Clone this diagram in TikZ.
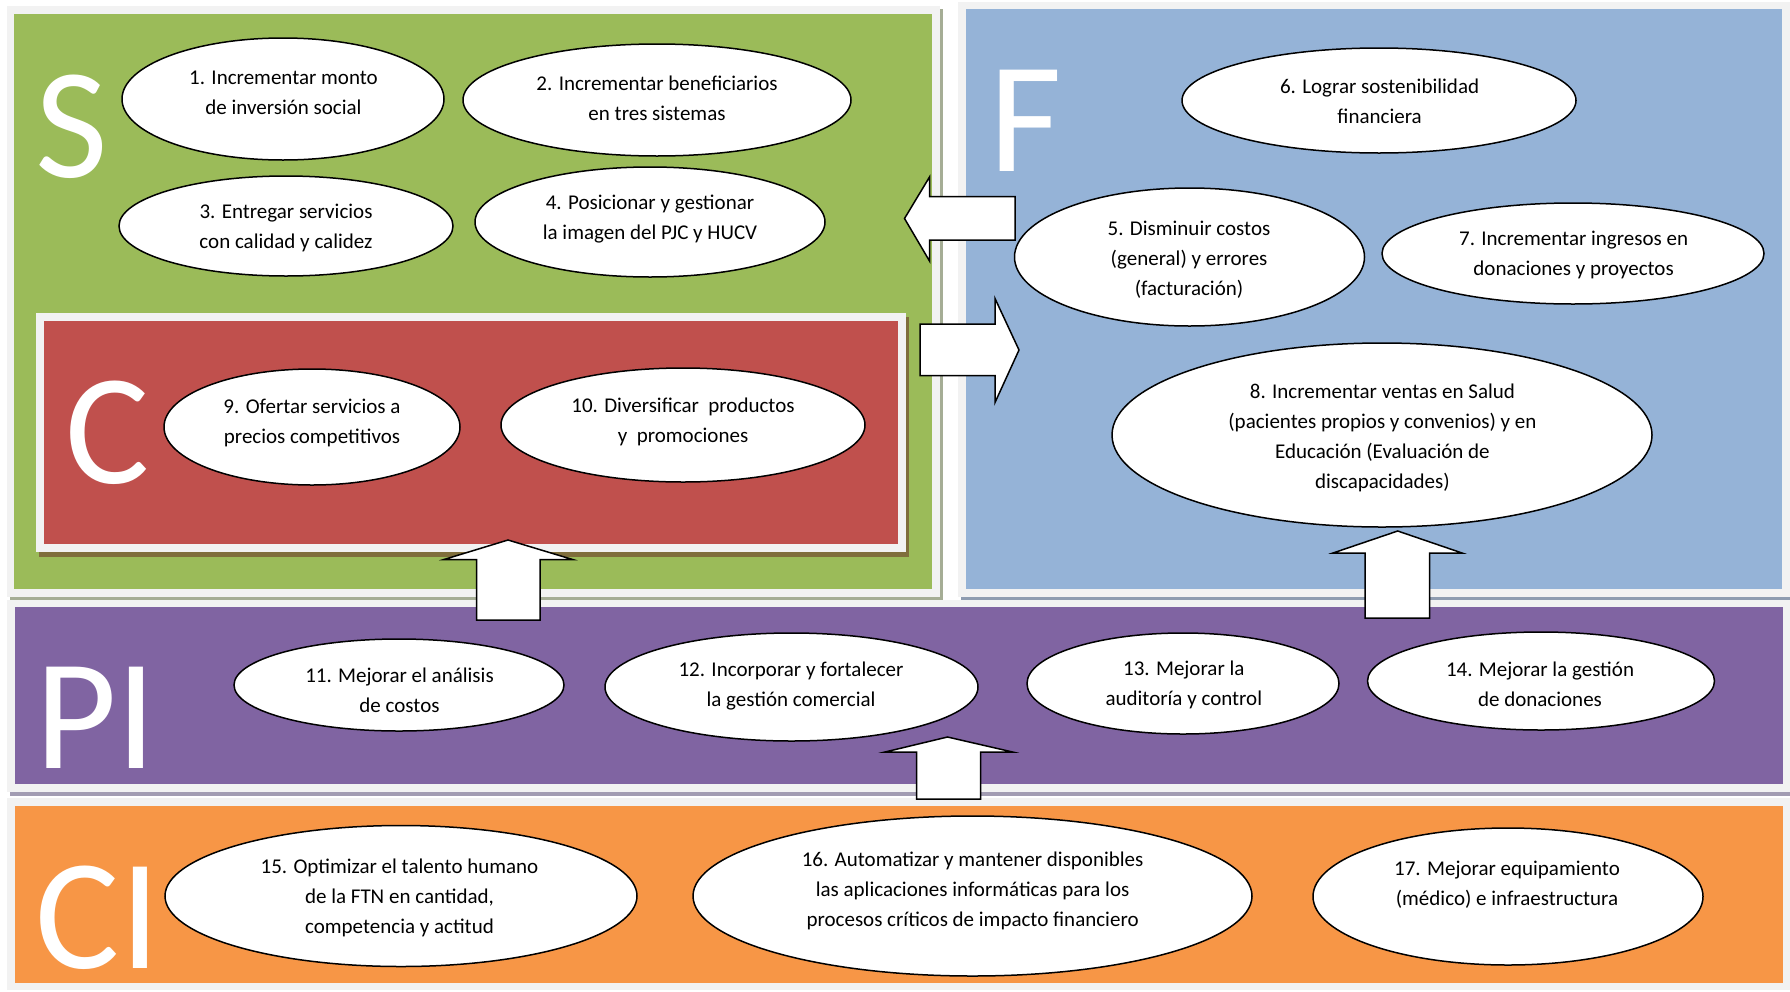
\documentclass[tikz,border=0pt]{standalone}
\usepackage{fontspec}
\setmainfont{Carlito}
\usetikzlibrary{shapes.geometric}
\definecolor{gS}{HTML}{9BBB59}
\definecolor{bF}{HTML}{95B3D7}
\definecolor{rC}{HTML}{C0504D}
\definecolor{pP}{HTML}{8064A2}
\definecolor{oC}{HTML}{F79646}
\definecolor{frm}{HTML}{F2F2F2}
\definecolor{shG}{HTML}{A5AD95}
\definecolor{shB}{HTML}{8E9CB0}
\definecolor{shR}{HTML}{7F6E3C}
\definecolor{shP}{HTML}{A29CB2}
\begin{document}
\begin{tikzpicture}[x=1pt,y=-1pt,
  oval/.style={ellipse, draw=black, fill=white, line width=1.5pt, inner sep=0pt},
  otext/.style={align=center, font=\fontsize{21}{30}\selectfont, inner sep=0pt},
  big/.style={text=white, font=\fontsize{158}{158}\selectfont, inner sep=0pt, anchor=base},
  barrow/.style={draw=black, fill=white, line width=1.5pt, line join=miter}]
\useasboundingbox (0,0) rectangle (1790,991);
\fill[white] (0,0) rectangle (1790,991);
% green S panel
\fill[shG] (10,9) rectangle (943,602);
\fill[frm] (7,6) rectangle (940,597);
\fill[gS] (13.5,13.8) rectangle (932,589);
% blue F panel
\fill[shB] (961,5) rectangle (1790,602);
\fill[frm] (958,2) rectangle (1790,597);
\fill[bF] (965.5,8.7) rectangle (1782,589);
% red C panel
\fill[shR] (39,317) rectangle (909,557);
\fill[frm] (36,313) rectangle (906,551.7);
\fill[rC] (44,321) rectangle (898,543.5);
% purple PI panel
\fill[shP] (10,603) rectangle (1790,796);
\fill[frm] (7,600) rectangle (1790,791.7);
\fill[pP] (15,606.5) rectangle (1783,784);
% orange CI panel
\fill[frm] (7,797.7) rectangle (1790,990);
\fill[oC] (15,806) rectangle (1783,983);
% big letters
\node[big] (lS) at (71.5,177) {S};
\node[big] (lF) at (1026,171) {F};
\node[big] (lC) at (108,483) {C};
\node[big] (lPI) at (96,768) {PI};
\node[big] (lCI) at (98,968) {CI};
% ellipses S
\node[oval, minimum width=322pt, minimum height=122pt] (o1) at (283,99) {};
\node[otext] (t1) at (283.5,93) {1. Incrementar monto\\de inversión social};
\node[oval, minimum width=388pt, minimum height=112pt] (o2) at (657,100) {};
\node[otext] (t2) at (657,98) {2. Incrementar beneficiarios\\en tres sistemas};
\node[oval, minimum width=334pt, minimum height=100pt] (o3) at (286,226) {};
\node[otext] (t3) at (286,227.5) {3. Entregar servicios\\con calidad y calidez};
\node[oval, minimum width=350pt, minimum height=110pt] (o4) at (650,222) {};
\node[otext] (t4) at (650,219) {4. Posicionar y gestionar\\la imagen del PJC y HUCV};
% ellipses C
\node[oval, minimum width=296pt, minimum height=116pt] (o9) at (312,427) {};
\node[otext] (t9) at (312,422.5) {9. Ofertar servicios a\\precios competitivos};
\node[oval, minimum width=364pt, minimum height=114pt] (o10) at (683,425) {};
\node[otext] (t10) at (683,421.5) {10. Diversificar\ \ productos\\y\ \ promociones};
% ellipses F
\node[oval, minimum width=394pt, minimum height=105pt] (o6) at (1379,100.5) {};
\node[otext] (t6) at (1379.6,100.8) {6. Lograr sostenibilidad\\financiera};
\node[oval, minimum width=350pt, minimum height=138pt] (o5) at (1189.5,257) {};
\node[otext] (t5) at (1189,260) {5. Disminuir costos\\(general) y errores\\(facturación)};
\node[oval, minimum width=382pt, minimum height=101pt] (o7) at (1573,253.5) {};
\node[otext] (t7) at (1573.6,254.6) {7. Incrementar ingresos en\\donaciones y proyectos};
\node[oval, minimum width=540pt, minimum height=184pt] (o8) at (1382,435) {};
\node[otext] (t8) at (1382.4,437.7) {8. Incrementar ventas en Salud\\(pacientes propios y convenios) y en\\Educación (Evaluación de\\discapacidades)};
% ellipses PI
\node[oval, minimum width=330pt, minimum height=92pt] (o11) at (399,685) {};
\node[otext] (t11) at (399.5,690) {11. Mejorar el análisis\\de costos};
\node[oval, minimum width=373pt, minimum height=108pt] (o12) at (791.5,687) {};
\node[otext] (t12) at (791,685.7) {12. Incorporar y fortalecer\\la gestión comercial};
\node[oval, minimum width=312pt, minimum height=101pt] (o13) at (1183,683.5) {};
\node[otext] (t13) at (1183.8,685) {13. Mejorar la\\auditoría y control};
\node[oval, minimum width=347pt, minimum height=98pt] (o14) at (1541,681) {};
\node[otext] (t14) at (1540,684.3) {14. Mejorar la gestión\\de donaciones};
% ellipses CI
\node[oval, minimum width=472pt, minimum height=141pt] (o15) at (401,896) {};
\node[otext] (t15) at (399.5,898) {15. Optimizar el talento humano\\de la FTN en cantidad,\\competencia y actitud};
\node[oval, minimum width=559pt, minimum height=160pt] (o16) at (972.5,896) {};
\node[otext] (t16) at (972.6,891) {16. Automatizar y mantener disponibles\\las aplicaciones informáticas para los\\procesos críticos de impacto financiero};
\node[oval, minimum width=390pt, minimum height=137pt] (o17) at (1508,896.5) {};
\node[otext] (t17) at (1507,885) {17. Mejorar equipamiento\\(médico) e infraestructura};
% block arrows
\draw[barrow] (1015,196.5) -- (929.5,196.5) -- (929.5,177) -- (904.5,218.5) -- (929.5,261) -- (929.5,240) -- (1015,240) -- cycle;
\draw[barrow] (920,324) -- (995,324) -- (995,298.5) -- (1019,350) -- (995,402.5) -- (995,375.6) -- (920,375.6) -- cycle;
\draw[barrow] (476.5,620) -- (476.5,559.5) -- (444,559.5) -- (508,540) -- (572.6,559.5) -- (540,559.5) -- (540,620) -- cycle;
\draw[barrow] (1365,618) -- (1365,553) -- (1333,553) -- (1397.7,531) -- (1462,553) -- (1429.5,553) -- (1429.5,618) -- cycle;
\draw[barrow] (916.7,799) -- (916.7,752) -- (885,752) -- (947.5,737) -- (1012.6,752) -- (980.6,752) -- (980.6,799) -- cycle;
\end{tikzpicture}
\end{document}
